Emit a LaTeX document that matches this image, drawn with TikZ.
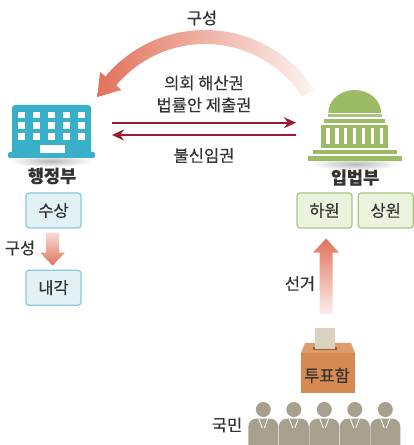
\documentclass[tikz,border=0pt]{standalone}
\usepackage{xcolor}
\usepackage{fontspec}
\setmainfont{Noto Sans CJK KR}[FakeBold=0.4]
\usepackage{tikz}
\usetikzlibrary{calc,arrows.meta,positioning}

\definecolor{govblue}{HTML}{3AAFC9}
\definecolor{parlgreen}{HTML}{9BBB64}
\definecolor{powerred}{HTML}{9C1C34}
\definecolor{formcoral}{HTML}{E2725B}
\definecolor{txtgray}{HTML}{333333}
\definecolor{boxblue}{HTML}{E2F1F6}
\definecolor{lineblue}{HTML}{88C8DB}
\definecolor{boxgreen}{HTML}{EBF2DD}
\definecolor{linegreen}{HTML}{A9C67E}
\definecolor{boxorange}{HTML}{D68A52}
\definecolor{lidorange}{HTML}{DD9C6B}
\definecolor{slipgray}{HTML}{D8D2BF}
\definecolor{people}{HTML}{A8A08E}

\begin{document}
\begin{tikzpicture}[x=1pt, y=1pt,
			every node/.style={text=txtgray, font=\fontsize{16.5}{22}\selectfont},
			organ/.style={font=\fontsize{17.5}{20}\selectfont\bfseries},
			office/.style={draw=lineblue, fill=boxblue, line width=1.2pt, rounded corners=3pt,
				minimum width=55pt, minimum height=35pt, inner sep=0pt},
			house/.style={office, draw=linegreen, fill=boxgreen},
			power/.style={powerred, line width=2pt, -{Stealth[length=12pt, width=11pt]}}]
	\useasboundingbox (0,0) rectangle (414,445);

	% shadows under the two buildings
	\shade[inner color=black!28, outer color=white] (51,284) ellipse (42 and 6);
	\shade[inner color=black!28, outer color=white] (355,281) ellipse (44 and 6);

	% government building
	\fill[govblue, rounded corners=3pt] (12,290) rectangle (91,340);
	\fill[govblue, rounded corners=2pt] (8,287) rectangle (95,293);
	\foreach \i in {0,...,4}
		\foreach \j in {0,...,2}
			\fill[white] ({21.5+15*\i-3.3},{330-10.7*\j-3.3}) rectangle +(6.6,6.6);
	\fill[white] (40,292) rectangle (65,300);

	% assembly hall
	\fill[parlgreen] (328.3,332) arc[start angle=180, end angle=0, x radius=26.4, y radius=23] -- cycle;
	\fill[parlgreen!85] (327.7,327.5) rectangle (382.3,331.3);
	\fill[parlgreen] (324.3,322) rectangle (385,326.3);
	\fill[parlgreen] (321,297) rectangle (388.3,320.3);
	\foreach \i in {0,...,6}
		\fill[white] ({328+8.9*\i-1.6},300.5) rectangle +(3.2,16);
	\fill[parlgreen] (313.3,291) rectangle (396.7,295.3);
	\fill[parlgreen] (308.3,284.3) rectangle (401.7,289.3);

	% curved arrow on top
	\coordinate (hub) at (205,285);
	\shade[left color=formcoral, middle color=formcoral!95, right color=formcoral!8]
		($(hub)+(33:130)$) arc[start angle=33, end angle=140, radius=130]
		-- ($(hub)+(140:137)$) -- ($(hub)+(140:123)+(230:21)$) -- ($(hub)+(140:109)$)
		-- ($(hub)+(140:116)$) arc[start angle=140, end angle=33, radius=116] -- cycle;
	\node (form) at (202,427) {구성};

	% powers between the two
	\node[align=center] (rights) at (204,351) {의회 해산권\\법률안 제출권};
	\node (noconf) at (204,289.5) {불신임권};
	\coordinate (govTop) at (112,322.3);
	\coordinate (parlTop) at (296,322.3);
	\coordinate (govBot) at (112,310);
	\coordinate (parlBot) at (296,310);
	\draw[power] (govTop) -- (parlTop);
	\draw[power] (parlBot) -- (govBot);

	% executive side
	\node[organ] (gov) at (52,269) {행정부};
	\node[office] (pm) at (53.5,234.5) {수상};
	\node[office, below=41pt of pm] (cab) {내각};
	\coordinate (formTop) at ($(pm.south)+(-1,-4)$);
	\coordinate (formTip) at ($(cab.north)+(-1,4)$);
	\shade[top color=formcoral!25, bottom color=formcoral]
		($(formTop)+(-6.5,0)$) -- ($(formTop)+(6.5,0)$) -- ($(formTip)+(6.5,13)$) -- ($(formTip)+(12.5,13)$)
		-- (formTip) -- ($(formTip)+(-12.5,13)$) -- ($(formTip)+(-6.5,13)$) -- cycle;
	\node (formb) at (20,197) {구성};

	% legislative side
	\node[organ] (parl) at (355,267.5) {입법부};
	\node[house] (lower) at (324.5,234.5) {하원};
	\node[house, right=5pt of lower] (upper) {상원};

	% ballot box
	\fill[boxorange] (301,52) rectangle (355,92);
	\fill[lidorange] (301,92) -- (355,92) -- (351,102) -- (305,102) -- cycle;
	\fill[boxorange!70!black] (313,94.5) rectangle (337,97.5);
	\node[fill=slipgray, minimum width=20pt, minimum height=21pt, inner sep=0pt] (slip) at (325,106) {};
	\node (box) at (327,69.5) {투표함};

	% election arrow
	\coordinate (voteEnd) at ($(slip.north)+(1,14)$);
	\coordinate (voteTip) at ($(lower.south)+(1.5,-10)$);
	\shade[top color=formcoral, bottom color=formcoral!12]
		($(voteEnd)+(-6.5,0)$) -- ($(voteEnd)+(6.5,0)$) -- ($(voteTip)+(6.5,-14)$) -- ($(voteTip)+(13,-14)$)
		-- (voteTip) -- ($(voteTip)+(-13,-14)$) -- ($(voteTip)+(-6.5,-14)$) -- cycle;
	\node (vote) at (300,161.5) {선거};

	% citizens
	\foreach \i in {0,...,4} {
		\coordinate (p\i) at ({263.3+30.5*\i},0);
		\fill[people] ($(p\i)+(0,35.5)$) circle (7.5);
		\fill[people, rounded corners=8pt] ($(p\i)+(-15,-10)$) rectangle ($(p\i)+(15,26.3)$);
		\draw[white, line width=0.9pt] ($(p\i)+(-4.5,26.3)$) -- ($(p\i)+(-1,17)$);
		\draw[white, line width=0.9pt] ($(p\i)+(4.5,26.3)$) -- ($(p\i)+(1,17)$);
	}
	\node (nation) at (227,20) {국민};
\end{tikzpicture}
\end{document}
